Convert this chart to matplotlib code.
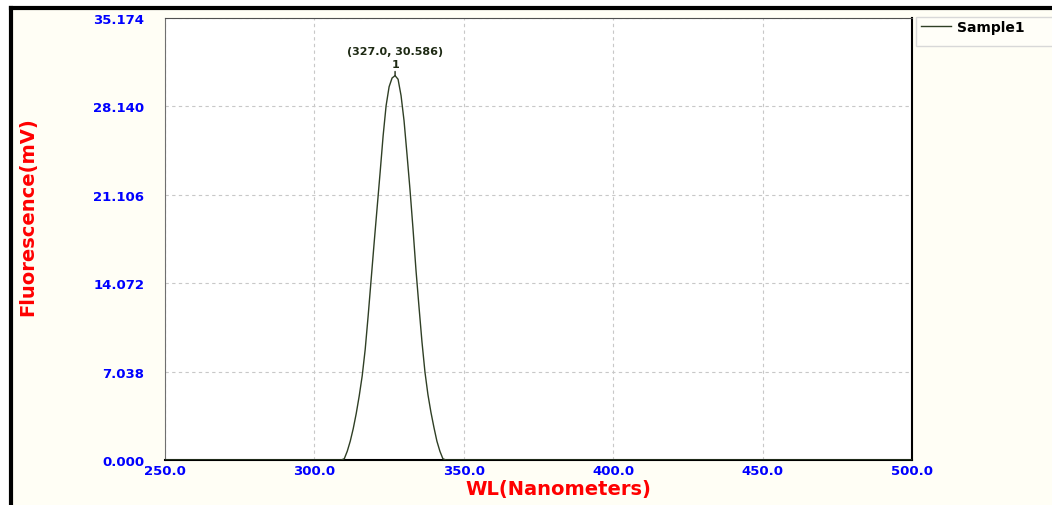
import numpy as np
import matplotlib
matplotlib.use('Agg')
from matplotlib import pyplot as plt
from matplotlib.patches import Rectangle
from matplotlib.lines import Line2D

# spectrum data
wl = [250.0, 309.0, 310, 311, 312, 313, 314, 315, 316, 317, 318, 319, 320, 321,
      322, 323, 324, 325, 326, 327, 328, 329, 330, 331, 332, 333, 334, 335,
      336, 337, 338, 339, 340, 341, 342, 343, 344, 500.0]
fl = [0.0, 0.0, 0.1, 0.7, 1.5, 2.5, 3.7, 5.1, 6.7, 8.8, 11.5, 14.4, 17.3, 20.1,
      22.9, 25.8, 28.2, 29.7, 30.4, 30.586, 30.3, 29.0, 27.0, 24.3, 21.5, 18.4,
      15.1, 12.2, 9.4, 7.0, 5.2, 3.8, 2.6, 1.5, 0.7, 0.1, 0.0, 0.0]

peak_x = 327.0
peak_y = 30.586

xticks = [250.0, 300.0, 350.0, 400.0, 450.0, 500.0]
yticks = [0.000, 7.038, 14.072, 21.106, 28.140, 35.174]

W, H = 1052, 506
fig = plt.figure(figsize=(W/100, H/100), dpi=100)
fig.patch.set_facecolor('white')

# cream background with thick black frame on top/left
bg = Rectangle((11/W, 0), 1.0, 1 - 9/H, transform=fig.transFigure,
               facecolor='#fffef5', edgecolor='none', zorder=-10)
fig.add_artist(bg)
fig.add_artist(Line2D([11/W, 1], [1 - 9/H, 1 - 9/H], color='black', lw=3, zorder=-5))
fig.add_artist(Line2D([11/W, 11/W], [0, 1 - 9/H], color='black', lw=3, zorder=-5))

# legend box
fig.add_artist(Rectangle((916/W, 1 - 47/H), 140/W, 29/H, transform=fig.transFigure,
                         facecolor='#fffef8', edgecolor='#d8d8d8', lw=1.0, zorder=-4))

ax = fig.add_axes([165/W, 1 - 461/H, (912-165)/W, (461-19)/H])
ax.set_facecolor('white')

ax.plot(wl, fl, color='#2f3f25', linewidth=1.0, label='Sample1', zorder=3)

ax.set_xlim(250, 500)
ax.set_ylim(0, 35.174)
ax.set_xticks(xticks)
ax.set_xticklabels(['%.1f' % v for v in xticks])
ax.set_yticks(yticks)
ax.set_yticklabels(['%.3f' % v for v in yticks])
ax.tick_params(axis='both', length=0, labelcolor='#0000ff', labelsize=9.5)
ax.tick_params(axis='x', pad=3)
ax.tick_params(axis='y', pad=15)
for lab in ax.get_xticklabels() + ax.get_yticklabels():
    lab.set_fontweight('bold')

ax.grid(True, color='#c8c8c8', linestyle=(0, (3, 3)), linewidth=0.8)
ax.set_axisbelow(True)

ax.spines['left'].set_color('#707070')
ax.spines['top'].set_color('#505050')
ax.spines['right'].set_color('black')
ax.spines['bottom'].set_color('black')
ax.spines['right'].set_linewidth(1.5)
ax.spines['bottom'].set_linewidth(1.5)

# peak label
ax.annotate('1', xy=(peak_x, peak_y), xytext=(0, 5), textcoords='offset points',
            ha='center', va='bottom', fontsize=8, fontweight='bold', color='#1e2a14',
            arrowprops=dict(arrowstyle='-', color='#1e2a14', lw=1, shrinkA=0, shrinkB=0))
ax.annotate('(%.1f, %.3f)' % (peak_x, peak_y), xy=(peak_x, peak_y), xytext=(0, 14),
            textcoords='offset points', ha='center', va='bottom',
            fontsize=8, fontweight='bold', color='#1e2a14')

fig.text(558/W, 1 - 490/H, 'WL(Nanometers)', color='#ff0000', fontsize=14,
         fontweight='bold', ha='center', va='center')
fig.text(28/W, 1 - 217/H, 'Fluorescence(mV)', color='#ff0000', fontsize=14,
         fontweight='bold', ha='center', va='center', rotation=90)

leg = ax.legend(loc='upper left', bbox_to_anchor=(918/W, 1 - 18/H),
                bbox_transform=fig.transFigure, frameon=False,
                handlelength=2.2, handletextpad=0.4, borderaxespad=0, borderpad=0.2,
                prop={'weight': 'bold', 'size': 10})

fig.savefig('out.png', dpi=100)
